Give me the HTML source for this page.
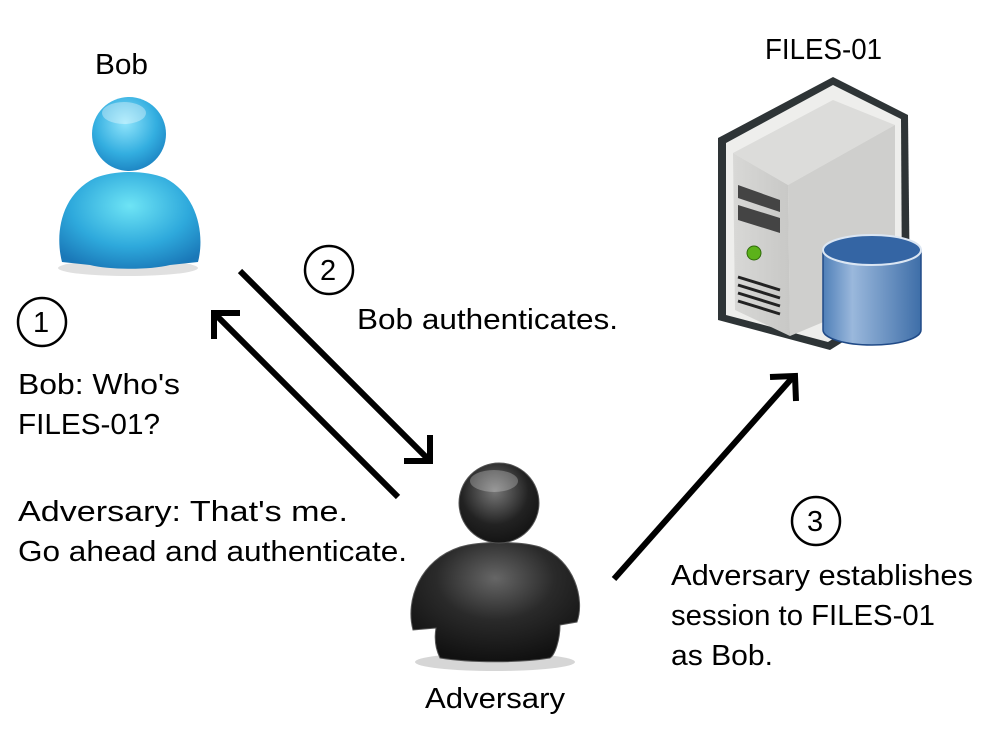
<!DOCTYPE html>
<html><head><meta charset="utf-8"><style>
html,body{margin:0;padding:0;background:#fff}
svg{display:block}
text{font-family:"Liberation Sans",sans-serif;font-size:29px;fill:#000}
</style></head><body>
<svg width="1000" height="750" viewBox="0 0 1000 750" xmlns="http://www.w3.org/2000/svg">
<defs>
<radialGradient id="bh" cx="0.45" cy="0.35" r="0.7"><stop offset="0" stop-color="#8fe4fb"/><stop offset="0.6" stop-color="#33aee0"/><stop offset="1" stop-color="#1a7fbf"/></radialGradient>
<radialGradient id="bb" cx="0.5" cy="0.35" r="0.7"><stop offset="0" stop-color="#6ee4f5"/><stop offset="0.6" stop-color="#2ea9dc"/><stop offset="1" stop-color="#1a78b8"/></radialGradient>
<radialGradient id="ah" cx="0.45" cy="0.35" r="0.7"><stop offset="0" stop-color="#777"/><stop offset="0.6" stop-color="#222"/><stop offset="1" stop-color="#111"/></radialGradient>
<radialGradient id="ab" cx="0.5" cy="0.3" r="0.7"><stop offset="0" stop-color="#666"/><stop offset="0.5" stop-color="#2a2a2a"/><stop offset="1" stop-color="#111"/></radialGradient>
<linearGradient id="cyl" x1="0" x2="1"><stop offset="0" stop-color="#4f7fb8"/><stop offset="0.3" stop-color="#9ab8dc"/><stop offset="1" stop-color="#3e6ea8"/></linearGradient>
<linearGradient id="face" x1="0" x2="1"><stop offset="0" stop-color="#d8d8d6"/><stop offset="1" stop-color="#c8c8c6"/></linearGradient>
</defs>

<!-- Bob -->
<ellipse cx="128" cy="268" rx="70" ry="8" fill="#ccc" opacity="0.6"/>
<path d="M62,262 C55,235 60,195 95,178 C115,170 145,170 165,178 C198,195 205,235 198,262 L170,265 C150,270 110,270 90,265 Z" fill="url(#bb)"/>
<circle cx="129" cy="134" r="37" fill="url(#bh)"/>
<ellipse cx="124" cy="113" rx="22" ry="11" fill="#fff" opacity="0.35"/>
<text x="95" y="74" textLength="53" lengthAdjust="spacingAndGlyphs">Bob</text>

<!-- Adversary -->
<ellipse cx="495" cy="662" rx="80" ry="9" fill="#bbb" opacity="0.6"/>
<path d="M413,630 C405,600 420,560 460,547 C480,541 520,541 540,547 C575,560 585,600 577,622 L560,625 C560,640 555,655 550,658 C520,663 470,663 440,658 C436,650 434,640 436,628 Z" fill="url(#ab)" stroke="#555" stroke-width="1"/>
<circle cx="499" cy="503" r="40" fill="url(#ah)" stroke="#555" stroke-width="1"/>
<ellipse cx="494" cy="481" rx="24" ry="11" fill="#fff" opacity="0.25"/>
<text x="425" y="708" textLength="140" lengthAdjust="spacingAndGlyphs">Adversary</text>

<!-- Server -->
<text x="765" y="59" textLength="117" lengthAdjust="spacingAndGlyphs">FILES-01</text>
<polygon points="718,138 833,77 908,115 910,300 830,350 718,320" fill="#2e3436"/>
<polygon points="726,143 833,85 901,119 902,296 828,342 726,315" fill="#eeeeec"/>
<polygon points="733,153 833,100 895,125 788,185" fill="#dcdcda"/>
<polygon points="788,185 895,125 895,292 790,336" fill="#cfcfcd"/>
<polygon points="733,153 788,185 790,336 735,310" fill="url(#face)"/>
<polygon points="738,185 780,200 780,212 738,198" fill="#444"/>
<polygon points="738,205 780,218 780,233 738,220" fill="#444"/>
<circle cx="754" cy="253" r="7" fill="#5cb21a" stroke="#2f6b0a"/>
<g stroke="#222" stroke-width="3"><line x1="738" y1="277" x2="780" y2="290"/><line x1="738" y1="285" x2="780" y2="298"/><line x1="738" y1="293" x2="780" y2="306"/><line x1="738" y1="301" x2="780" y2="314"/></g>
<path d="M823,250 L823,330 A49,15 0 0 0 921,330 L921,250 Z" fill="url(#cyl)" stroke="#204a87" stroke-width="1.5"/>
<ellipse cx="872" cy="250" rx="49" ry="15" fill="#3465a4" stroke="#dbe6f3" stroke-width="2"/>

<!-- arrows -->
<g stroke="#000" stroke-width="6" fill="none" stroke-linecap="butt">
<line x1="240" y1="271" x2="428" y2="459"/>
<polyline points="404,461 430,461 430,435"/>
<line x1="398" y1="497" x2="216" y2="315"/>
<polyline points="214,339 214,313 240,313"/>
<line x1="614" y1="579" x2="793" y2="377"/>
<polyline points="770,377 795,376 796,401"/>
</g>

<!-- circled numbers -->
<g fill="none" stroke="#000" stroke-width="2.5">
<circle cx="42" cy="322" r="24"/><circle cx="329" cy="270" r="24"/><circle cx="816" cy="521" r="24"/>
</g>
<text x="33" y="332">1</text>
<text x="320" y="280">2</text>
<text x="807" y="531">3</text>

<text x="357" y="329" textLength="261" lengthAdjust="spacingAndGlyphs">Bob authenticates.</text>
<text x="18" y="394" textLength="162" lengthAdjust="spacingAndGlyphs">Bob: Who's</text>
<text x="18" y="434" textLength="142" lengthAdjust="spacingAndGlyphs">FILES-01?</text>
<text x="18" y="521" textLength="330" lengthAdjust="spacingAndGlyphs">Adversary: That's me.</text>
<text x="18" y="561" textLength="389" lengthAdjust="spacingAndGlyphs">Go ahead and authenticate.</text>
<text x="671" y="585" textLength="302" lengthAdjust="spacingAndGlyphs">Adversary establishes</text>
<text x="671" y="625" textLength="264" lengthAdjust="spacingAndGlyphs">session to FILES-01</text>
<text x="671" y="665" textLength="102" lengthAdjust="spacingAndGlyphs">as Bob.</text>
</svg>
</body></html>
